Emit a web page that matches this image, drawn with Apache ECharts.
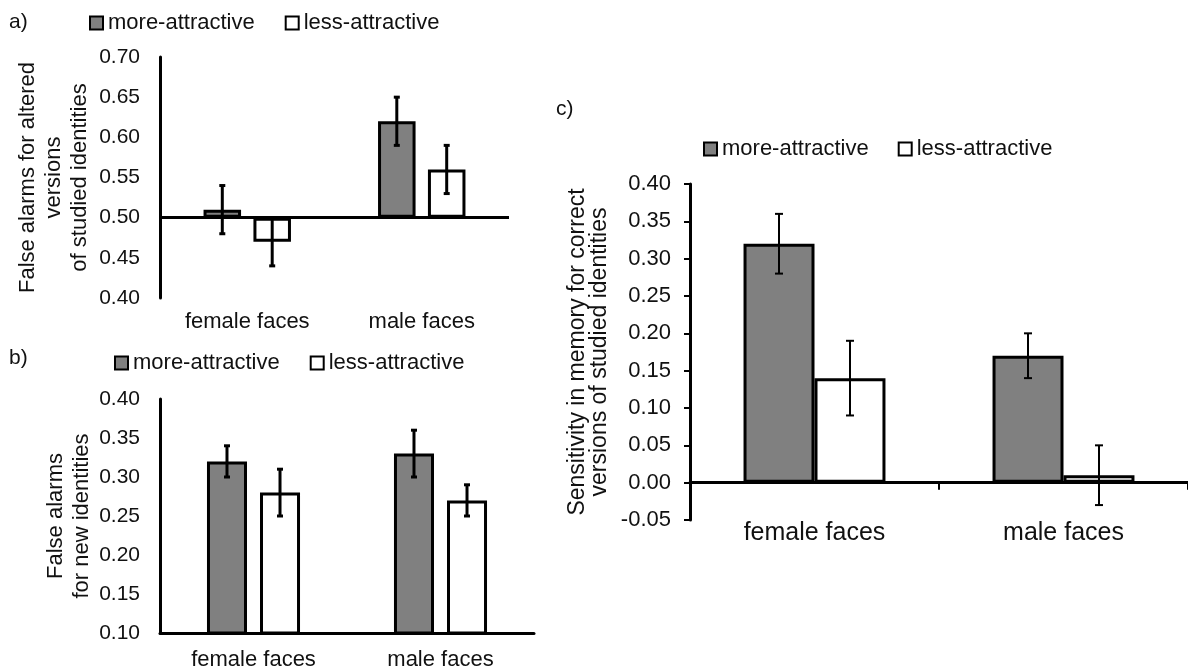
<!DOCTYPE html>
<html>
<head>
<meta charset="utf-8">
<script src="https://cdn.jsdelivr.net/npm/echarts@6/dist/echarts.min.js"></script>
<style>
html,body{margin:0;padding:0;background:#fff;}
#chart{width:1188px;height:671px;}
</style>
</head>
<body>
<div id="chart"></div>
<script>
// ---------- data ----------
const categories = ['female faces', 'male faces'];
const seriesNames = ['more-attractive', 'less-attractive'];

// panel a: false alarms for altered versions of studied identities
const aMore = [0.51, 0.62];
const aMoreErr = [0.03, 0.03];
const aLess = [0.47, 0.56];
const aLessErr = [0.03, 0.03];
const aBaseline = 0.50;
const aAxis = {min: 0.40, max: 0.70, interval: 0.05};

// panel b: false alarms for new identities
const bMore = [0.32, 0.33];
const bMoreErr = [0.02, 0.03];
const bLess = [0.28, 0.27];
const bLessErr = [0.03, 0.02];
const bAxis = {min: 0.10, max: 0.40, interval: 0.05};

// panel c: sensitivity
const cMore = [0.32, 0.17];
const cMoreErr = [0.04, 0.03];
const cLess = [0.14, 0.01];
const cLessErr = [0.05, 0.04];
const cAxis = {min: -0.05, max: 0.40, interval: 0.05};

const panelLabels = ['a)', 'b)', 'c)'];
const yTitles = [
  'False alarms for altered\nversions\nof studied identities',
  'False alarms\nfor new identities',
  'Sensitivity in memory for correct\nversions of studied identities'
];

// ---------- style ----------
const FONT = "'Liberation Sans', Arial, sans-serif";
const TXT = '#111';
const GRAY = '#808080';

function errData(vals, errs) {
  return vals.map((v, i) => [i, v - errs[i], v + errs[i]]);
}

function errSeries(gi, vals, errs, side, barPct, gapPct, lw, cap) {
  return {
    type: 'custom',
    xAxisIndex: gi, yAxisIndex: gi,
    z: 6, silent: true,
    encode: {x: 0, y: [1, 2]},
    data: errData(vals, errs),
    renderItem: function (params, api) {
      const i = api.value(0);
      const lo = api.coord([i, api.value(1)]);
      const hi = api.coord([i, api.value(2)]);
      const band = api.size([1, 0])[0];
      const w = band * barPct;
      const x = lo[0] + side * (w * (1 + gapPct)) / 2;
      const st = {stroke: '#000', lineWidth: lw};
      return {type: 'group', children: [
        {type: 'line', shape: {x1: x, y1: lo[1], x2: x, y2: hi[1]}, style: st},
        {type: 'line', shape: {x1: x - cap, y1: lo[1], x2: x + cap, y2: lo[1]}, style: st},
        {type: 'line', shape: {x1: x - cap, y1: hi[1], x2: x + cap, y2: hi[1]}, style: st}
      ]};
    }
  };
}

function barStyle(color) {
  return {color: color, borderColor: '#000', borderWidth: 3};
}

// bar geometry fractions
const A_W = 0.215, A_G = 0.33;
const B_W = 0.214, B_G = 0.325;
const C_W = 0.285, C_G = 0;

const pct = v => (v * 100).toFixed(1) + '%';

const series = [];
// panel a: stacked on baseline 0.50
series.push({
  type: 'bar', xAxisIndex: 0, yAxisIndex: 0, stack: 'aMore', stackStrategy: 'all',
  data: aMore.map(() => aBaseline), itemStyle: {color: 'rgba(0,0,0,0)'}, silent: true,
  barWidth: pct(A_W), barGap: pct(A_G)
});
series.push({
  name: seriesNames[0], type: 'bar', xAxisIndex: 0, yAxisIndex: 0, stack: 'aMore', stackStrategy: 'all',
  data: aMore.map(v => +(v - aBaseline).toFixed(4)), itemStyle: barStyle(GRAY),
  barWidth: pct(A_W), barGap: pct(A_G), z: 3,
  markLine: {
    symbol: 'none', silent: true, animation: false,
    label: {show: false},
    lineStyle: {color: '#000', width: 3, type: 'solid'},
    data: [{yAxis: aBaseline}]
  }
});
series.push({
  type: 'bar', xAxisIndex: 0, yAxisIndex: 0, stack: 'aLess', stackStrategy: 'all',
  data: aLess.map(() => aBaseline), itemStyle: {color: 'rgba(0,0,0,0)'}, silent: true,
  barWidth: pct(A_W), barGap: pct(A_G)
});
series.push({
  name: seriesNames[1], type: 'bar', xAxisIndex: 0, yAxisIndex: 0, stack: 'aLess', stackStrategy: 'all',
  data: aLess.map(v => +(v - aBaseline).toFixed(4)), itemStyle: barStyle('#fff'),
  barWidth: pct(A_W), barGap: pct(A_G), z: 3
});
series.push(errSeries(0, aMore, aMoreErr, -1, A_W, A_G, 3, 3));
series.push(errSeries(0, aLess, aLessErr, 1, A_W, A_G, 3, 3));

// panel b
series.push({
  name: seriesNames[0], type: 'bar', xAxisIndex: 1, yAxisIndex: 1, data: bMore,
  itemStyle: barStyle(GRAY), barWidth: pct(B_W), barGap: pct(B_G)
});
series.push({
  name: seriesNames[1], type: 'bar', xAxisIndex: 1, yAxisIndex: 1, data: bLess,
  itemStyle: barStyle('#fff'), barWidth: pct(B_W), barGap: pct(B_G)
});
series.push(errSeries(1, bMore, bMoreErr, -1, B_W, B_G, 3, 3));
series.push(errSeries(1, bLess, bLessErr, 1, B_W, B_G, 3, 3));

// panel c
series.push({
  name: seriesNames[0], type: 'bar', xAxisIndex: 2, yAxisIndex: 2, data: cMore,
  itemStyle: barStyle(GRAY), barWidth: pct(C_W), barGap: pct(C_G)
});
series.push({
  name: seriesNames[1], type: 'bar', xAxisIndex: 2, yAxisIndex: 2, data: cLess,
  itemStyle: barStyle('#fff'), barWidth: pct(C_W), barGap: pct(C_G)
});
series.push(errSeries(2, cMore, cMoreErr, -1, C_W, C_G, 2, 4));
series.push(errSeries(2, cLess, cLessErr, 1, C_W, C_G, 2, 4));

function legend(left, top, gap, size) {
  return {
    left: left, top: top, padding: 0, itemGap: gap, icon: 'rect',
    itemWidth: 13, itemHeight: 13,
    itemStyle: {borderColor: '#000', borderWidth: 2},
    textStyle: {fontSize: size, color: TXT, fontFamily: FONT},
    selectedMode: false,
    data: seriesNames
  };
}

function yAxis(gi, ax, name, nameGap, labelSize, nameSize, nameLH, ticks) {
  return {
    type: 'value', gridIndex: gi, min: ax.min, max: ax.max, interval: ax.interval,
    axisLine: {show: true, lineStyle: {color: '#000', width: 3}},
    axisTick: {show: ticks, length: 6, lineStyle: {color: '#000', width: 2}},
    splitLine: {show: false},
    axisLabel: {
      fontSize: labelSize, color: TXT, fontFamily: FONT, margin: ticks ? 19 : 20,
      formatter: v => v.toFixed(2)
    },
    name: name, nameLocation: 'middle', nameRotate: 90, nameGap: nameGap,
    nameTextStyle: {fontSize: nameSize, lineHeight: nameLH, color: TXT, fontFamily: FONT}
  };
}

const option = {
  animation: false,
  backgroundColor: '#fff',
  textStyle: {fontFamily: FONT},
  title: [
    {text: panelLabels[0], left: 9, top: 12, padding: 0, textStyle: {fontSize: 21, fontWeight: 'normal', color: TXT, fontFamily: FONT}},
    {text: panelLabels[1], left: 9, top: 348, padding: 0, textStyle: {fontSize: 21, fontWeight: 'normal', color: TXT, fontFamily: FONT}},
    {text: panelLabels[2], left: 556, top: 99, padding: 0, textStyle: {fontSize: 21, fontWeight: 'normal', color: TXT, fontFamily: FONT}}
  ],
  legend: [
    legend(89, 12, 30, 22),
    legend(114, 352, 30, 22),
    legend(703, 138, 29, 22)
  ],
  grid: [
    {left: 160, top: 57, width: 349, height: 241},
    {left: 160, top: 399, width: 374, height: 234},
    {left: 690, top: 184, width: 498, height: 336}
  ],
  xAxis: [
    {type: 'category', gridIndex: 0, data: categories,
     axisLine: {show: false}, axisTick: {show: false},
     axisLabel: {fontSize: 22, color: TXT, fontFamily: FONT, margin: 13}},
    {type: 'category', gridIndex: 1, data: categories,
     axisLine: {show: true, lineStyle: {color: '#000', width: 3}}, axisTick: {show: false},
     axisLabel: {fontSize: 22, color: TXT, fontFamily: FONT, margin: 16}},
    {type: 'category', gridIndex: 2, data: categories,
     axisLine: {show: true, onZero: true, lineStyle: {color: '#000', width: 3}},
     axisTick: {show: true, length: 7, lineStyle: {color: '#000', width: 2}},
     axisLabel: {fontSize: 25, color: TXT, fontFamily: FONT, margin: 1}}
  ],
  yAxis: [
    yAxis(0, aAxis, yTitles[0], 67, 21, 22, 26, false),
    yAxis(1, bAxis, yTitles[1], 64, 21, 22, 26, false),
    yAxis(2, cAxis, yTitles[2], 79, 22, 23, 22, true)
  ],
  series: series
};

const chart = echarts.init(document.getElementById('chart'), null, {renderer: 'canvas'});
chart.setOption(option);
</script>
</body>
</html>
